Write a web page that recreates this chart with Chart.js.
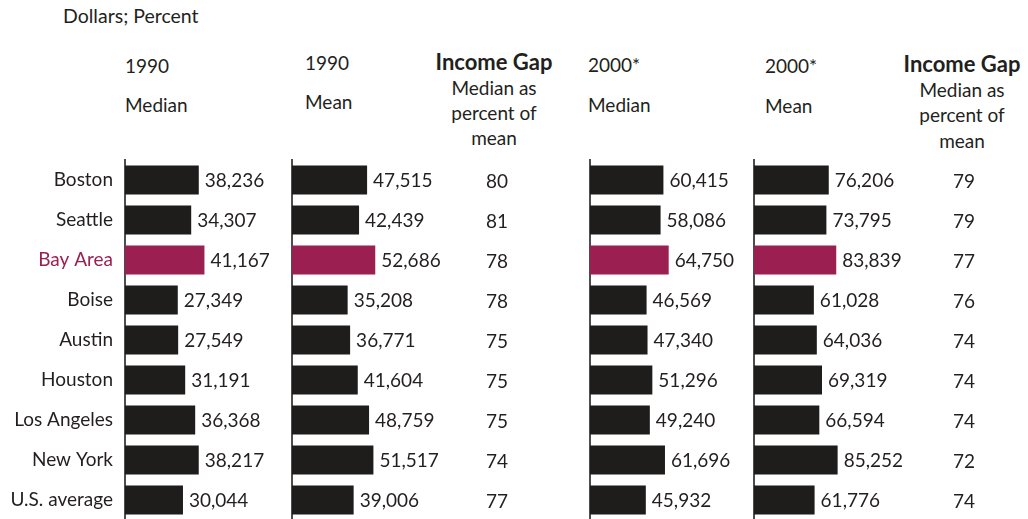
<!DOCTYPE html>
<html>
<head>
<meta charset="utf-8">
<script src="https://cdn.jsdelivr.net/npm/chart.js@4/dist/chart.umd.min.js"></script>
<style>
  html, body { margin: 0; padding: 0; background: #fff; overflow: hidden; }
  body { width: 1028px; height: 519px; position: relative; font-family: Lato, 'Open Sans', sans-serif; color: #231f20; }
  .txt { position: absolute; font-size: 19px; line-height: 1; white-space: nowrap; transform: translateY(-50%); }
  .ctr { transform: translate(-50%, -50%); text-align: center; }
  .bold { font-weight: bold; font-size: 22px; }
  .panel { position: absolute; top: 0; height: 520px; }
</style>
</head>
<body>
<div class="txt" style="left:63px; top:16px; font-size:19.5px;">Dollars; Percent</div>

<div class="txt" style="left:125px; top:65px;">1990</div>
<div class="txt" style="left:125px; top:104px;">Median</div>
<div class="txt" style="left:305px; top:62px;">1990</div>
<div class="txt" style="left:305px; top:101px;">Mean</div>
<div class="txt ctr bold" style="left:494px; top:62px;">Income Gap</div>
<div class="txt ctr" style="left:494px; top:87px;">Median as</div>
<div class="txt ctr" style="left:494px; top:112px;">percent of</div>
<div class="txt ctr" style="left:494px; top:137px;">mean</div>

<div class="txt" style="left:588px; top:64px;">2000*</div>
<div class="txt" style="left:588px; top:104px;">Median</div>
<div class="txt" style="left:765px; top:65px;">2000*</div>
<div class="txt" style="left:765px; top:105px;">Mean</div>
<div class="txt ctr bold" style="left:962px; top:64px;">Income Gap</div>
<div class="txt ctr" style="left:962px; top:89px;">Median as</div>
<div class="txt ctr" style="left:962px; top:114px;">percent of</div>
<div class="txt ctr" style="left:962px; top:140px;">mean</div>

<div class="panel" style="left:0px; width:290px;"><canvas id="median1990"></canvas></div>
<div class="panel" style="left:290px; width:298px;"><canvas id="mean1990"></canvas></div>
<div class="panel" style="left:588px; width:164px;"><canvas id="median2000"></canvas></div>
<div class="panel" style="left:752px; width:276px;"><canvas id="mean2000"></canvas></div>

<script>
const cities = ['Boston', 'Seattle', 'Bay Area', 'Boise', 'Austin', 'Houston', 'Los Angeles', 'New York', 'U.S. average'];
const median1990 = [38236, 34307, 41167, 27349, 27549, 31191, 36368, 38217, 30044];
const mean1990 = [47515, 42439, 52686, 35208, 36771, 41604, 48759, 51517, 39006];
const gap1990 = [80, 81, 78, 78, 75, 75, 75, 74, 77];
const median2000 = [60415, 58086, 64750, 46569, 47340, 51296, 49240, 61696, 45932];
const mean2000 = [76206, 73795, 83839, 61028, 64036, 69319, 66594, 85252, 61776];
const gap2000 = [79, 79, 77, 76, 74, 74, 74, 72, 74];

const highlight = 'Bay Area';
const barColor = '#1e1d1b';
const hiColor = '#9b1f50';
const textColor = '#231f20';
const font = 'Lato, "Open Sans", sans-serif';

function fmt(v) {
  return v.toLocaleString('en-US');
}

// writes the value next to each bar, and the gap column if there is one
const labelPlugin = {
  id: 'barLabels',
  afterDatasetsDraw(chart, args, opts) {
    const ctx = chart.ctx;
    const meta = chart.getDatasetMeta(0);
    const values = chart.data.datasets[0].data;
    ctx.save();
    ctx.font = '19px ' + font;
    ctx.fillStyle = textColor;
    ctx.textBaseline = 'middle';
    meta.data.forEach((bar, i) => {
      ctx.textAlign = 'left';
      ctx.fillText(fmt(values[i]), bar.x + 6, bar.y + 1);
      if (opts.gap) {
        ctx.textAlign = 'center';
        ctx.fillText(opts.gap[i], opts.gapX, chart.scales.y.getPixelForValue(i) + 2);
      }
    });
    ctx.restore();
  }
};

function makePanel(id, values, xMax, axisWidth, gap, gapX) {
  const showNames = axisWidth > 10;
  return new Chart(document.getElementById(id), {
    type: 'bar',
    data: {
      labels: cities,
      datasets: [{
        data: values,
        backgroundColor: cities.map(c => c === highlight ? hiColor : barColor),
        barPercentage: 0.72,
        categoryPercentage: 1
      }]
    },
    options: {
      indexAxis: 'y',
      responsive: true,
      maintainAspectRatio: false,
      animation: false,
      layout: { padding: { top: 160, bottom: 0, left: 0, right: 0 } },
      plugins: {
        legend: { display: false },
        tooltip: { enabled: false },
        barLabels: { gap, gapX }
      },
      scales: {
        x: { display: false, min: 0, max: xMax },
        y: {
          grid: { display: false, drawTicks: false },
          border: { display: true, color: '#4d4d4d', width: 2 },
          ticks: {
            display: showNames,
            padding: 12,
            font: { family: font, size: 19 },
            color: c => cities[c.index] === highlight ? hiColor : textColor
          },
          afterFit: scale => {
            scale.width = axisWidth;
            scale.paddingTop = 0;
            scale.paddingBottom = 0;
          }
        }
      }
    },
    plugins: [labelPlugin]
  });
}

makePanel('median1990', median1990, 85500, 125);
makePanel('mean1990', mean1990, 187300, 2, gap1990, 207);
makePanel('median2000', median2000, 133300, 2);
makePanel('mean2000', mean2000, 279300, 2, gap2000, 212);
</script>
</body>
</html>
